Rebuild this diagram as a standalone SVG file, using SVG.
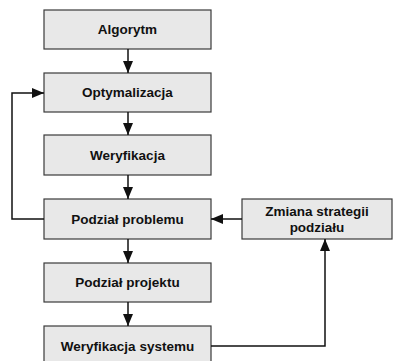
<svg xmlns="http://www.w3.org/2000/svg" width="397" height="361" viewBox="0 0 397 361">
<style>
.box{fill:#e8e8e8;stroke:#3a3a3a;stroke-width:1.2}
.lbl{font-family:"Liberation Sans",Arial,sans-serif;font-weight:bold;font-size:13.5px;fill:#111;text-anchor:middle}
.ln{fill:none;stroke:#111;stroke-width:1.5}
</style>
<defs>
<marker id="ah" markerWidth="12" markerHeight="10" refX="12" refY="5" orient="auto" markerUnits="userSpaceOnUse">
<path d="M0,0 L12,5 L0,10 Z" fill="#111"/>
</marker>
</defs>
<rect width="397" height="361" fill="#fff"/>
<g id="n1"><rect class="box" x="44" y="10" width="167" height="39"/><text class="lbl" x="127.5" y="34">Algorytm</text></g>
<g id="n2"><rect class="box" x="44" y="73" width="167" height="39"/><text class="lbl" x="127.5" y="97">Optymalizacja</text></g>
<g id="n3"><rect class="box" x="44" y="135" width="167" height="40"/><text class="lbl" x="127.5" y="160">Weryfikacja</text></g>
<g id="n4"><rect class="box" x="44" y="199" width="167" height="40"/><text class="lbl" x="127.5" y="224">Podział problemu</text></g>
<g id="n5"><rect class="box" x="44" y="263" width="167" height="39"/><text class="lbl" x="127.5" y="287">Podział projektu</text></g>
<g id="n6"><rect class="box" x="44" y="326" width="167" height="40"/><text class="lbl" x="127.5" y="351">Weryfikacja systemu</text></g>
<g id="n7"><rect class="box" x="242" y="199" width="150" height="40"/><text class="lbl" x="317" y="216">Zmiana strategii</text><text class="lbl" x="317" y="232">podziału</text></g>
<g id="connectors">
<path class="ln" d="M128,49 V73" marker-end="url(#ah)"/>
<path class="ln" d="M128,112 V135" marker-end="url(#ah)"/>
<path class="ln" d="M128,175 V199" marker-end="url(#ah)"/>
<path class="ln" d="M128,239 V263" marker-end="url(#ah)"/>
<path class="ln" d="M128,302 V326" marker-end="url(#ah)"/>
<path class="ln" d="M44,219 H12 V93 H44" marker-end="url(#ah)"/>
<path class="ln" d="M242,219 H211" marker-end="url(#ah)"/>
<path class="ln" d="M211,346 H325 V239" marker-end="url(#ah)"/>
</g>
</svg>
